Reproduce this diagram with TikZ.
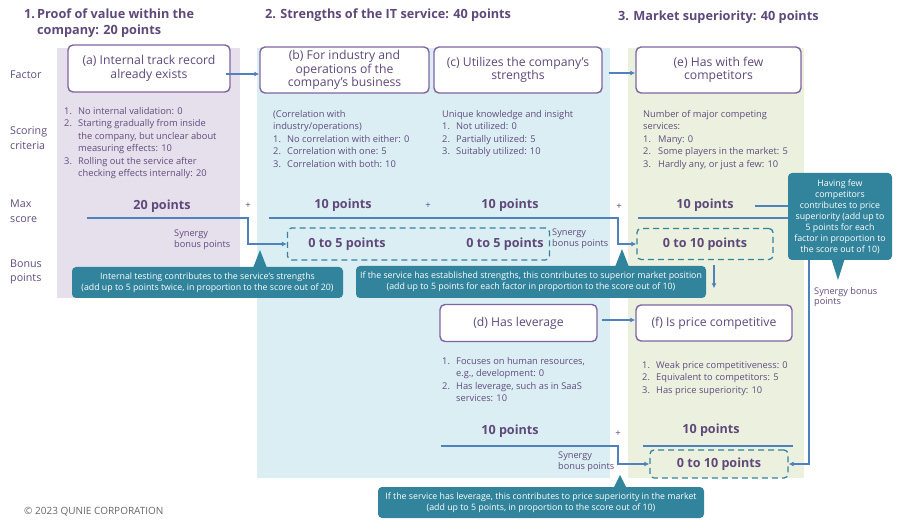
\documentclass[tikz,border=0pt]{standalone}
\usepackage{fontspec}
\setmainfont{Open Sans}
\usetikzlibrary{arrows.meta,positioning}
\definecolor{titlepurple}{HTML}{5F497A}
\definecolor{boxpurple}{HTML}{8064A2}
\definecolor{textpurple}{HTML}{604C7E}
\definecolor{flowblue}{HTML}{4F81BD}
\definecolor{tealbox}{HTML}{31849B}
\definecolor{panelpurple}{HTML}{E6E0EC}
\definecolor{panelblue}{HTML}{DBEEF4}
\definecolor{panelgreen}{HTML}{EBF1DE}
\tikzset{
  factor/.style={rectangle, rounded corners=5pt, draw=boxpurple, line width=1.4pt, fill=white,
                 text=titlepurple, align=center, font=\fontsize{12.2}{13.5}\selectfont},
  criteria/.style={anchor=north west, inner sep=0pt, align=left, text=textpurple, font=\fontsize{9.3}{12.5}\selectfont},
  rowlabel/.style={anchor=west, inner sep=0pt, align=left, text=textpurple, font=\fontsize{10.7}{14.5}\selectfont},
  heading/.style={anchor=west, inner sep=0pt, align=left, text=titlepurple, font=\bfseries\fontsize{12.7}{16}\selectfont},
  maxpts/.style={inner sep=0pt, text=titlepurple, font=\bfseries\fontsize{12.6}{13}\selectfont},
  plus/.style={inner sep=0pt, text=textpurple, font=\fontsize{9.5}{11}\selectfont},
  bonus/.style={rectangle, rounded corners=4pt, draw=tealbox, line width=1.3pt, dash pattern=on 6pt off 4pt,
                text=titlepurple, font=\bfseries\fontsize{12.6}{13}\selectfont},
  synergy/.style={anchor=west, inner sep=0pt, align=left, text=textpurple, font=\fontsize{9.2}{10.5}\selectfont},
  note/.style={rectangle, rounded corners=4pt, fill=tealbox, text=white, align=center, font=\fontsize{8.8}{11}\selectfont},
  flow/.style={-{Latex[length=5pt,width=5pt]}, draw=flowblue, line width=1.2pt},
  rule/.style={draw=flowblue, line width=1.2pt},
}
\newcommand{\itemno}[2][14pt]{\makebox[#1][l]{#2}}

\begin{document}
\begin{tikzpicture}[x=1pt, y=-1pt]
\useasboundingbox (0,0) rectangle (900,529);

% Column panels
\fill[panelpurple] (57,48) rectangle (240,298);
\fill[panelblue] (257,48) rectangle (610,478);
\fill[panelgreen] (628,48) rectangle (804,478);

% Headings
\node[heading] (h1) at (24,23) {\itemno[13pt]{1.}Proof of value within the\\\itemno[13pt]{}company: 20 points};
\node[heading] (h2) at (265,15) {2. Strengths of the IT service: 40 points};
\node[heading] (h3) at (618,17) {3. Market superiority: 40 points};

% Row labels
\node[rowlabel] (rfactor) at (10,75) {Factor};
\node[rowlabel] (rscore) at (10,138) {Scoring\\criteria};
\node[rowlabel] (rmax) at (10,211) {Max\\score};
\node[rowlabel] (rbonus) at (10,272) {Bonus\\points};

% Factor boxes
\node[factor, minimum width=162pt, minimum height=47pt] (fa) at (149,68.5) {(a) Internal track record\\already exists};
\node[factor, minimum width=169pt, minimum height=46pt] (fb) at (344.5,70) {(b) For industry and\\operations of the\\company's business};
\node[factor, minimum width=168pt, minimum height=46pt] (fc) at (518,70) {(c) Utilizes the company's\\strengths};
\node[factor, minimum width=165pt, minimum height=46pt] (fe) at (718.5,70) {(e) Has with few\\competitors};
\node[factor, minimum width=157pt, minimum height=37pt] (fd) at (518.5,323) {(d) Has leverage};
\node[factor, minimum width=156pt, minimum height=36pt] (ff) at (714,323) {(f) Is price competitive};

\draw[flow] ([xshift=-5pt,yshift=-5.5pt]fa.east) -- ([yshift=-5.5pt]fa.east -| fb.west);
\draw[flow] ([xshift=6pt,yshift=-3pt]fc.east) -- ([yshift=-3pt]fc.east -| fe.west);
\draw[flow] ([xshift=4pt,yshift=3pt]fd.east) -- ([yshift=3pt]fd.east -| ff.west);

% Scoring criteria
\node[criteria] (ca) at (64,107) {\itemno{1.}No internal validation: 0\\\itemno{2.}Starting gradually from inside\\\itemno{}the company, but unclear about\\\itemno{}measuring effects: 10\\\itemno{3.}Rolling out the service after\\\itemno{}checking effects internally: 20};
\node[criteria] (cb) at (273,110) {(Correlation with\\industry/operations)\\\itemno{1.}No correlation with either: 0\\\itemno{2.}Correlation with one: 5\\\itemno{3.}Correlation with both: 10};
\node[criteria] (cc) at (442,110) {Unique knowledge and insight\\\itemno{1.}Not utilized: 0\\\itemno{2.}Partially utilized: 5\\\itemno{3.}Suitably utilized: 10};
\node[criteria] (ce) at (643,110) {Number of major competing\\services:\\\itemno[15pt]{1.}Many: 0\\\itemno[15pt]{2.}Some players in the market: 5\\\itemno[15pt]{3.}Hardly any, or just a few: 10};
\node[criteria] (cd) at (442,357) {\itemno{1.}Focuses on human resources,\\\itemno{}e.g., development: 0\\\itemno{2.}Has leverage, such as in SaaS\\\itemno{}services: 10};
\node[criteria] (cf) at (642,361) {\itemno{1.}Weak price competitiveness: 0\\\itemno{2.}Equivalent to competitors: 5\\\itemno{3.}Has price superiority: 10};

% Max score
\node[maxpts] (p20) at (162,206) {20 points};
\node[plus] (plus1) at (248,206) {+};
\node[maxpts] (p10b) at (343,205) {10 points};
\node[plus] (plus2) at (428,206) {+};
\node[maxpts] (p10c) at (510,205) {10 points};
\node[plus] (plus3) at (619,207) {+};
\node[maxpts] (p10e) at (705,205) {10 points};
\node[maxpts] (p10d) at (510,431) {10 points};
\node[plus] (plus4) at (618,434) {+};
\node[maxpts] (p10f) at (711,430) {10 points};

% Bonus points
\node[bonus, minimum width=262pt, minimum height=32pt] (bbc) at (418.5,244) {};
\node[maxpts] (bb) at (347,244) {0 to 5 points};
\node[maxpts] (bc) at (505,244) {0 to 5 points};
\node[bonus, minimum width=136pt, minimum height=31pt] (be) at (705,244) {0 to 10 points};
\node[bonus, minimum width=138pt, minimum height=28pt] (bf) at (719,464) {0 to 10 points};

\node[synergy] (s1) at (174,240) {Synergy\\bonus points};
\node[synergy] (s2) at (552,239) {Synergy\\bonus points};
\node[synergy] (s3) at (558,462) {Synergy\\bonus points};
\node[synergy] (s4) at (814,297) {Synergy bonus\\points};

% Connectors
\coordinate (r20) at (87,218);
\coordinate (k20) at (248,218);
\draw[flow] (r20) -- (k20) |- (bbc.west);
\coordinate (rbc) at (269,218);
\coordinate (kbc) at (618,218);
\draw[flow] (rbc) -- (kbc) |- (be.west);
\coordinate (re) at (638,218);
\coordinate (ke) at (809,218);
\draw[flow] (re) -- (ke) |- (bf.east);
\coordinate (rd) at (441,446);
\coordinate (kd) at (618,446);
\draw[flow] (rd) -- (kd) |- (bf.west);
\coordinate (rf) at (643,446);
\coordinate (rf2) at (793,446);
\draw[rule] (rf) -- (rf2);
\draw[flow, shorten <=5pt, shorten >=16pt] (ff.north |- be.south) -- (ff.north);

% Notes
\node[note, minimum width=271pt, minimum height=31pt] (n1) at (207.5,282.5) {Internal testing contributes to the service's strengths\\(add up to 5 points twice, in proportion to the score out of 20)};
\coordinate (t1) at (260,250);
\fill[tealbox] (t1) -- ++(-7,18) -- ++(14,0) -- cycle;
\node[note, minimum width=350pt, minimum height=32pt] (n2) at (531,282) {If the service has established strengths, this contributes to superior market position\\(add up to 5 points for each factor in proportion to the score out of 10)};
\coordinate (t2) at (622,249);
\fill[tealbox] (t2) -- ++(-7,18) -- ++(14,0) -- cycle;
\node[note, minimum width=326pt, minimum height=31pt] (n3) at (541,502.5) {If the service has leverage, this contributes to price superiority in the market\\(add up to 5 points, in proportion to the score out of 10)};
\coordinate (t3) at (620,475);
\fill[tealbox] (t3) -- ++(-6.5,13) -- ++(13,0) -- cycle;
\node[note, minimum width=104pt, minimum height=87pt] (n4) at (840,216.5) {Having few\\competitors\\contributes to price\\superiority (add up to\\5 points for each\\factor in proportion to\\the score out of 10)};
\coordinate (t4) at (838,280);
\fill[tealbox] (t4) -- ++(-7,-22) -- ++(14,0) -- cycle;
\coordinate (e10) at (755,206);
\draw[rule] (e10) -- (e10 -| n4.west);

\node[anchor=west, inner sep=0pt, text=black!60, font=\fontsize{10}{12}\selectfont] (copy) at (24,512) {© 2023 QUNIE CORPORATION};

\end{tikzpicture}
\end{document}
